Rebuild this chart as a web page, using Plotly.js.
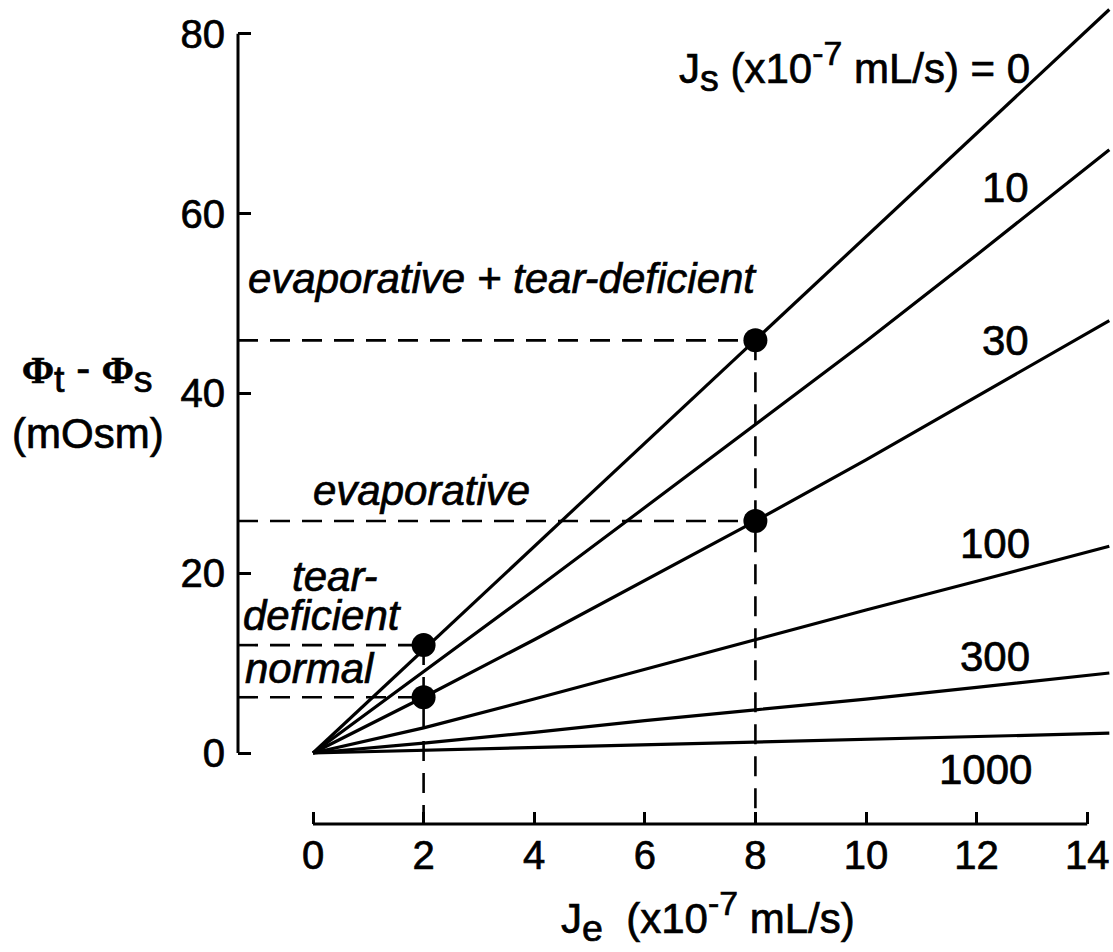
<!DOCTYPE html>
<html>
<head>
<meta charset="utf-8">
<script src="https://cdn.plot.ly/plotly-3.0.1.min.js"></script>
<style>
html,body{margin:0;padding:0;background:#fff;}
#chart{width:1113px;height:952px;}
#chart svg text{stroke:#000;stroke-width:0.7px;}
</style>
</head>
<body>
<div id="chart"></div>
<script>
// ---- data ----
const je = [0, 2, 4, 6, 8, 10, 12, 14.4];
const jsLabels = ['0', '10', '30', '100', '300', '1000'];
const js0    = [0, 11.5, 23.0, 34.4, 45.9, 57.4, 68.9, 82.7];
const js10   = [0, 9.0, 18.1, 27.3, 36.5, 45.8, 55.4, 67.1];
const js30   = [0, 6.2, 12.6, 19.2, 25.8, 32.6, 39.6, 48.1];
const js100  = [0, 2.8, 6.0, 9.3, 12.6, 15.9, 19.1, 23.0];
const js300  = [0, 1.1, 2.3, 3.6, 4.8, 6.0, 7.3, 8.9];
const js1000 = [0, 0.3, 0.6, 0.9, 1.2, 1.5, 1.8, 2.2];

const stateNames = ['evaporative + tear-deficient', 'evaporative', 'tear-deficient', 'normal'];
const stateJe  = [8, 8, 2, 2];
const stateOsm = [45.9, 25.8, 12.0, 6.2];

const xTicks = [0, 2, 4, 6, 8, 10, 12, 14];
const yTicks = [0, 20, 40, 60, 80];

// ---- layout geometry ----
const W = 1113, H = 952;
const M = {l: 238, r: 0, t: 0, b: 128};
const pw = W - M.l - M.r, ph = H - M.t - M.b;
const xPerPx = 1 / 55.3, yPerPx = 1 / 8.99;
const xr = [-(313 - M.l) * xPerPx, -(313 - M.l) * xPerPx + pw * xPerPx];
const yr = [-((H - M.b) - 753) * yPerPx, 0];
yr[1] = yr[0] + ph * yPerPx;
// pixel -> data helpers for annotation placement
const PX = p => xr[0] + (p - M.l) * xPerPx;
const PY = p => yr[0] + ((H - M.b) - p) * yPerPx;

const FONT = 'Liberation Sans, Arial, Helvetica, sans-serif';
const FS = 42;
const series = [js0, js10, js30, js100, js300, js1000];

const traces = [];
series.forEach((ys, i) => {
  traces.push({x: je, y: ys, type: 'scatter', mode: 'lines', name: jsLabels[i],
    line: {color: '#000', width: 3.2}, hoverinfo: 'skip'});
});
// dashed guides from the dots
stateJe.forEach((xv, i) => {
  traces.push({x: [xr[0], xv], y: [stateOsm[i], stateOsm[i]], type: 'scatter', mode: 'lines',
    line: {color: '#000', width: 2.6, dash: '20px,12px'}, hoverinfo: 'skip'});
});
[...new Set(stateJe)].forEach(xv => {
  const top = Math.max(...stateOsm.filter((v, i) => stateJe[i] === xv));
  traces.push({x: [xv, xv], y: [top, yr[0]], type: 'scatter', mode: 'lines',
    line: {color: '#000', width: 2.6, dash: '20px,12px'}, hoverinfo: 'skip'});
});
traces.push({x: stateJe, y: stateOsm, type: 'scatter', mode: 'markers',
  marker: {color: '#000', size: 24}, cliponaxis: false, hoverinfo: 'skip'});

const ann = (text, xp, yp, opts) => Object.assign({
  text: text, x: PX(xp), y: PY(yp), xref: 'x', yref: 'y', showarrow: false,
  xanchor: 'center', yanchor: 'middle', font: {family: FONT, size: FS, color: '#000'}
}, opts || {});
const it = t => '<i>' + t + '</i>';
const sub = t => '<sub><span style="font-size:128%">' + t + '</span></sub>';
const sup = t => '<sup><span style="font-size:115%">' + t + '</span></sup>';
const phi = '<span style="font-family:Liberation Serif;font-weight:bold;font-size:92%">Φ</span>';

const annotations = [
  ann('J' + sub('s') + ' (x10' + sup('-7') + ' mL/s) = ' + jsLabels[0], 1032, 66, {xanchor: 'right'}),
  ann(jsLabels[1], 1005, 187),
  ann(jsLabels[2], 1005, 340),
  ann(jsLabels[3], 995, 543),
  ann(jsLabels[4], 995, 656),
  ann(jsLabels[5], 985, 769),
  ann(it(stateNames[0]), 246, 278, {xanchor: 'left'}),
  ann(it(stateNames[1]), 421, 490),
  ann(it('tear-'), 335, 576),
  ann(it('deficient'), 322, 615),
  ann(it(stateNames[3]), 310, 668),
  ann(phi + sub('t') + ' - ' + phi + sub('s'), 87, 372, {xref: 'paper', x: (87 - M.l) / pw}),
  ann('(mOsm)', 88, 433, {xref: 'paper', x: (88 - M.l) / pw}),
  ann('J' + sub('e') + '&nbsp; (x10' + sup('-7') + ' mL/s)', 708, 916, {yref: 'paper', y: -(916 - (H - M.b)) / ph})
];

const shapes = [
  {type: 'line', xref: 'x', yref: 'paper', x0: xTicks[0], x1: xTicks[xTicks.length - 1], y0: 0, y1: 0,
    line: {color: '#000', width: 3}},
  {type: 'line', xref: 'paper', yref: 'y', x0: 0, x1: 0, y0: yTicks[0], y1: yTicks[yTicks.length - 1],
    line: {color: '#000', width: 3}}
];

const layout = {
  width: W, height: H, margin: M, showlegend: false,
  paper_bgcolor: '#fff', plot_bgcolor: '#fff',
  font: {family: FONT, size: 40, color: '#000'},
  xaxis: {range: xr, showgrid: false, zeroline: false, showline: false,
    tickmode: 'array', tickvals: xTicks, ticktext: xTicks.map(String),
    ticks: 'inside', ticklen: 12, tickwidth: 3, tickcolor: '#000',
    tickfont: {family: FONT, size: 40, color: '#000'}, ticklabelstandoff: 4},
  yaxis: {range: yr, showgrid: false, zeroline: false, showline: false,
    tickmode: 'array', tickvals: yTicks, ticktext: yTicks.map(String),
    ticks: 'inside', ticklen: 13, tickwidth: 3, tickcolor: '#000',
    tickfont: {family: FONT, size: 40, color: '#000'}, ticklabelstandoff: 12},
  annotations: annotations, shapes: shapes
};

Plotly.newPlot('chart', traces, layout, {staticPlot: true, displayModeBar: false});
</script>
</body>
</html>
